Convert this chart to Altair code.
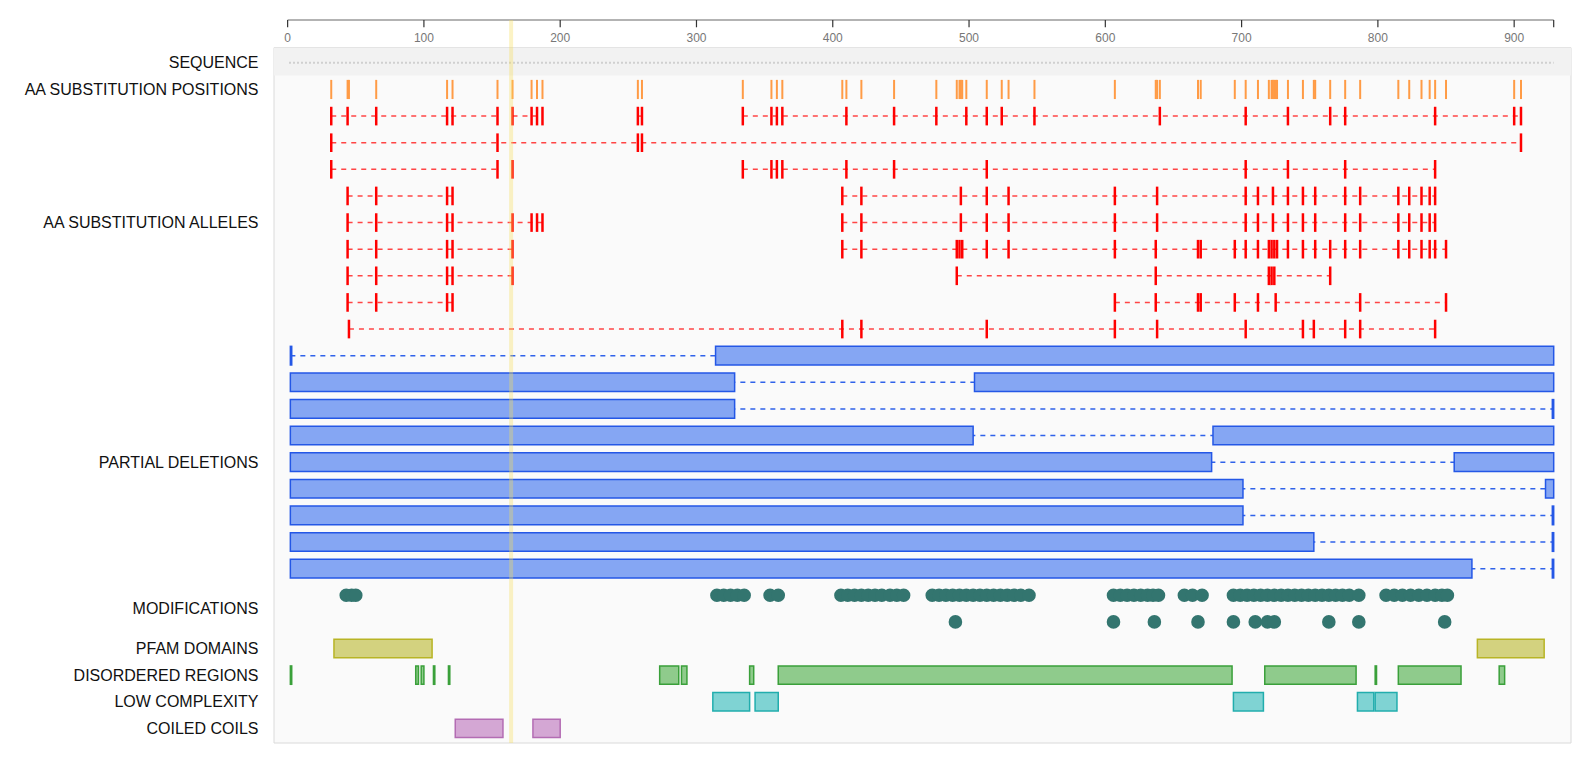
import altair as alt
import pandas as pd

# ---------------- data ----------------
PROTEIN_LENGTH = 929
X_DOMAIN = [-10, 941.7]
Y_DOMAIN = [-1.91, 25.55]

row_label_pos = [0, 1, 6, 15, 20.5, 22, 23, 24, 25]
row_label_txt = ["SEQUENCE", "AA SUBSTITUTION POSITIONS", "AA SUBSTITUTION ALLELES",
                 "PARTIAL DELETIONS", "MODIFICATIONS", "PFAM DOMAINS",
                 "DISORDERED REGIONS", "LOW COMPLEXITY", "COILED COILS"]

tick_values = [0, 100, 200, 300, 400, 500, 600, 700, 800, 900]
highlight_pos = 164

# each allele row: list of linked segments, each a list of substituted positions
allele_rows = [
    [[32, 44, 65, 117, 121, 154], [165, 179, 183, 187], [257, 260],
     [334, 355, 359, 363, 410, 445, 476, 498, 513, 524, 548, 640, 703, 734, 765, 776, 842, 900, 905]],
    [[32, 154, 257, 260, 905]],
    [[32, 154], [165], [334, 355, 359, 363, 410, 445, 513, 703, 734, 776, 842]],
    [[44, 65, 117, 121],
     [407, 421, 494, 513, 529, 607, 638, 703, 712, 723, 734, 745, 754, 776, 787, 815, 823, 832, 838, 842]],
    [[44, 65, 117, 121, 165, 179, 183, 187],
     [407, 421, 494, 513, 529, 607, 638, 703, 712, 723, 734, 745, 754, 776, 787, 815, 823, 832, 838, 842]],
    [[44, 65, 117, 121, 165],
     [407, 421, 491, 493, 495, 513, 529, 607, 637, 668, 670, 695, 703, 712, 720, 722, 724, 726, 734,
      745, 754, 765, 776, 787, 815, 823, 832, 838, 842, 850]],
    [[44, 65, 117, 121, 165], [491, 637, 720, 722, 724, 765]],
    [[44, 65, 117, 121], [607, 637, 668, 670, 695, 712, 725, 787, 850]],
    [[45, 407, 421, 513, 607, 638, 703, 745, 753, 776, 787, 842]],
]

# retained segments of each partial deletion
deletion_rows = [
    [(2, 3), (314, 929)],
    [(2, 328), (504, 929)],
    [(2, 328), (928, 929)],
    [(2, 503), (679, 929)],
    [(2, 678), (856, 929)],
    [(2, 701), (923, 929)],
    [(2, 701), (928, 929)],
    [(2, 753), (928, 929)],
    [(2, 869), (928, 929)],
]

mods_row1 = [43, 47, 50,
             315, 320, 325, 330, 335, 354, 360,
             406, 411, 416, 421, 426, 431, 436, 442, 447, 452,
             473, 478, 483, 488, 493, 498, 503, 508, 513, 518, 523, 528, 533, 538, 544,
             606, 611, 616, 621, 626, 631, 635, 639, 658, 664, 671,
             694, 699, 704, 709, 714, 719, 724, 729, 734, 739, 744, 749, 754, 759, 764, 769,
             774, 779, 786,
             806, 812, 818, 824, 830, 836, 842, 847, 851]
mods_row2 = [490, 606, 636, 668, 694, 710, 719, 724, 764, 786, 849]

pfam = [(34, 106), (873, 922)]
disordered = [(2, 3), (94, 96), (98, 100), (107, 108), (118, 119), (273, 287), (289, 293),
              (339, 342), (360, 693), (717, 784), (798, 799), (815, 861), (889, 893)]
low_complexity = [(312, 339), (343, 360), (694, 716), (785, 797), (798, 814)]
coiled_coils = [(123, 158), (180, 200)]

# ---------------- tables ----------------
ROW_SEQ, ROW_POS, ROW_ALLELE0, ROW_DEL0 = 0, 1, 2, 11
ROW_MOD0, ROW_PFAM, ROW_DIS, ROW_LC, ROW_CC = 20, 22, 23, 24, 25
AXIS_Y = -1.61

panel_df = pd.DataFrame([{"x0": X_DOMAIN[0], "x1": X_DOMAIN[1], "y0": -0.57, "y1": Y_DOMAIN[1]}])
band_df = pd.DataFrame([{"x0": X_DOMAIN[0], "x1": X_DOMAIN[1], "y0": -0.57, "y1": 0.48}])
axis_line_df = pd.DataFrame([{"x0": 0, "x1": PROTEIN_LENGTH, "y": AXIS_Y}])
axis_tick_df = pd.DataFrame({"pos": tick_values + [PROTEIN_LENGTH]})
axis_tick_df["y0"] = AXIS_Y
axis_tick_df["y1"] = AXIS_Y + 0.274
axis_lab_df = pd.DataFrame({"pos": tick_values, "label": [str(v) for v in tick_values]})
axis_lab_df["y"] = -0.95
seq_df = pd.DataFrame([{"x0": 1, "x1": PROTEIN_LENGTH, "y": ROW_SEQ}])

allele_ticks, allele_dash = [], []
for i, segs in enumerate(allele_rows):
    r = ROW_ALLELE0 + i
    for seg in segs:
        if len(seg) > 1:
            allele_dash.append({"row": r, "x0": min(seg), "x1": max(seg)})
        for p in seg:
            allele_ticks.append({"row": r, "pos": p, "y0": r - 0.35, "y1": r + 0.35})
allele_ticks_df = pd.DataFrame(allele_ticks)
allele_dash_df = pd.DataFrame(allele_dash)

positions = sorted(set(allele_ticks_df["pos"]))
orange_df = pd.DataFrame({"pos": positions})
orange_df["y0"] = ROW_POS - 0.36
orange_df["y1"] = ROW_POS + 0.36

del_rect, del_dash = [], []
for i, segs in enumerate(deletion_rows):
    r = ROW_DEL0 + i
    del_dash.append({"row": r, "x0": min(s for s, e in segs), "x1": max(e for s, e in segs)})
    for s, e in segs:
        del_rect.append({"x0": s, "x1": e, "y0": r - 0.35, "y1": r + 0.35})
del_rect_df = pd.DataFrame(del_rect)
del_dash_df = pd.DataFrame(del_dash)

mods_df = pd.DataFrame([{"pos": p, "row": ROW_MOD0} for p in mods_row1] +
                       [{"pos": p, "row": ROW_MOD0 + 1} for p in mods_row2])

feat = []
for kind, row, segs in [("pfam", ROW_PFAM, pfam), ("disordered", ROW_DIS, disordered),
                        ("lowcomp", ROW_LC, low_complexity), ("coiled", ROW_CC, coiled_coils)]:
    for s, e in segs:
        feat.append({"kind": kind, "x0": s, "x1": e, "y0": row - 0.345, "y1": row + 0.345})
feat_df = pd.DataFrame(feat)

hl_df = pd.DataFrame([{"pos": highlight_pos, "y0": AXIS_Y, "y1": Y_DOMAIN[1]}])

# ---------------- encodings ----------------
xscale = alt.Scale(domain=X_DOMAIN, nice=False, zero=False)
yscale = alt.Scale(domain=Y_DOMAIN, nice=False, zero=False, reverse=True)

label_expr = "''"
for v, t in reversed(list(zip(row_label_pos, row_label_txt))):
    label_expr = f"datum.value == {v} ? '{t}' : ({label_expr})"

yaxis = alt.Axis(values=row_label_pos, labelExpr=label_expr, ticks=False, domain=False,
                 grid=False, title=None, labelFont="Liberation Sans", labelFontSize=16,
                 labelColor="#111111", labelPadding=16, labelLimit=400, labelOverlap=False)


def X(f):
    return alt.X(f, type="quantitative", scale=xscale, axis=None)


def Y(f):
    return alt.Y(f, type="quantitative", scale=yscale, axis=yaxis)


panel = alt.Chart(panel_df).mark_rect(fill="#fafafa", stroke="#dadada", strokeWidth=1).encode(
    x=X("x0"), x2="x1", y=Y("y0"), y2="y1")
band = alt.Chart(band_df).mark_rect(fill="#f2f2f2").encode(
    x=X("x0"), x2="x1", y=Y("y0"), y2="y1")
axis_line = alt.Chart(axis_line_df).mark_rule(color="#9a9a9a", strokeWidth=1.5).encode(
    x=X("x0"), x2="x1", y=Y("y"))
axis_ticks = alt.Chart(axis_tick_df).mark_rule(color="#333333", strokeWidth=1.2).encode(
    x=X("pos"), y=Y("y0"), y2="y1")
axis_labels = alt.Chart(axis_lab_df).mark_text(font="Liberation Sans", fontSize=12,
                                               color="#777777", baseline="middle").encode(
    x=X("pos"), y=Y("y"), text="label:N")
seq = alt.Chart(seq_df).mark_rule(color="#d0d0d0", strokeWidth=2, strokeDash=[2, 2]).encode(
    x=X("x0"), x2="x1", y=Y("y"))
orange = alt.Chart(orange_df).mark_rule(color="#ff9b45", strokeWidth=2).encode(
    x=X("pos"), y=Y("y0"), y2="y1")
a_dash = alt.Chart(allele_dash_df).mark_rule(color="#ff4545", strokeWidth=1.5,
                                             strokeDash=[5, 5]).encode(
    x=X("x0"), x2="x1", y=Y("row"))
a_ticks = alt.Chart(allele_ticks_df).mark_rule(color="#ff0000", strokeWidth=2.5).encode(
    x=X("pos"), y=Y("y0"), y2="y1")
d_dash = alt.Chart(del_dash_df).mark_rule(color="#2f62ea", strokeWidth=1.5,
                                          strokeDash=[5, 5]).encode(
    x=X("x0"), x2="x1", y=Y("row"))
d_rect = alt.Chart(del_rect_df).mark_rect(fill="#85a6f3", stroke="#2457e6", strokeWidth=1.5).encode(
    x=X("x0"), x2="x1", y=Y("y0"), y2="y1")
mods = alt.Chart(mods_df).mark_circle(size=185, color="#33756f", opacity=1).encode(
    x=X("pos"), y=Y("row"))
kinds = ["pfam", "disordered", "lowcomp", "coiled"]
feats = alt.Chart(feat_df).mark_rect(strokeWidth=1.5).encode(
    x=X("x0"), x2="x1", y=Y("y0"), y2="y1",
    fill=alt.Fill("kind:N", scale=alt.Scale(domain=kinds,
                                            range=["#d3d27f", "#8fcb8c", "#7fd3d3", "#d4a7d4"]),
                  legend=None),
    stroke=alt.Stroke("kind:N", scale=alt.Scale(domain=kinds,
                                                range=["#b8b425", "#3aa03a", "#21adad", "#b36cb3"]),
                      legend=None))
hl = alt.Chart(hl_df).mark_rule(color="#f5dc5a", strokeWidth=4, opacity=0.35).encode(
    x=X("pos"), y=Y("y0"), y2="y1")

chart = alt.layer(panel, band, axis_line, axis_ticks, axis_labels, seq, orange, a_dash, a_ticks,
                  d_dash, d_rect, mods, feats, hl).properties(
    width=1297, height=731,
    autosize=alt.AutoSizeParams(type="none"),
    padding={"left": 266, "top": 4, "right": 10, "bottom": 10},
).configure_view(stroke=None)

chart.save("out.html", embed_options={"renderer": "svg", "actions": False})
